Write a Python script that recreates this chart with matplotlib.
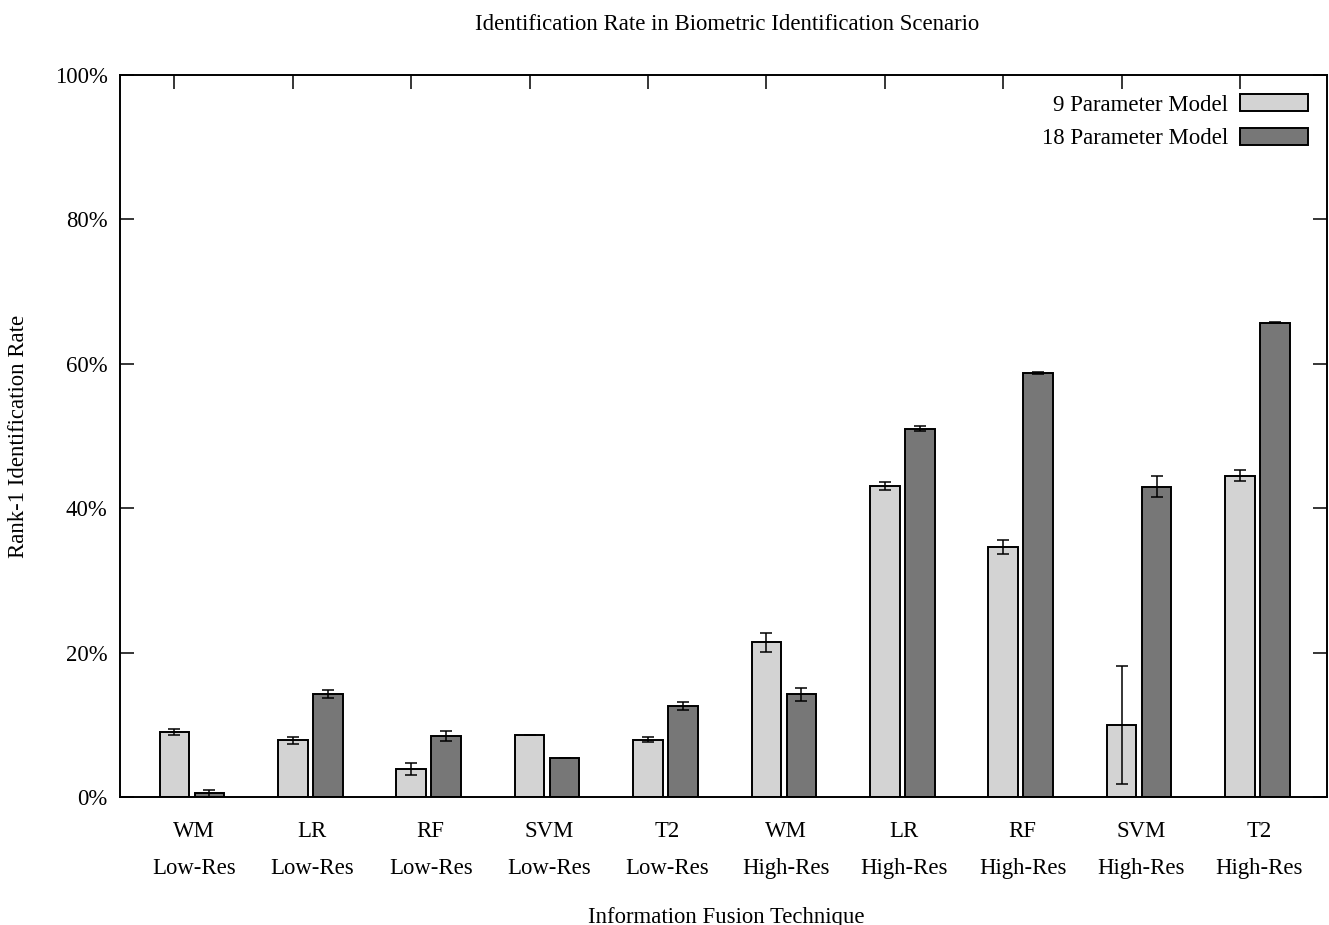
import numpy as np
import matplotlib
matplotlib.use("Agg")
import matplotlib.pyplot as plt

# Rank-1 identification rates (%) and their error margins
methods = ["WM", "LR", "RF", "SVM", "T2", "WM", "LR", "RF", "SVM", "T2"]
resolutions = ["Low-Res"] * 5 + ["High-Res"] * 5
series_names = ["9 Parameter Model", "18 Parameter Model"]
rate_9 = [9.0, 7.85, 3.9, 8.6, 7.95, 21.4, 43.1, 34.6, 10.0, 44.5]
err_9 = [0.4, 0.5, 0.85, 0.0, 0.4, 1.35, 0.55, 0.95, 8.15, 0.75]
rate_18 = [0.5, 14.3, 8.45, 5.4, 12.6, 14.2, 51.0, 58.7, 43.0, 65.7]
err_18 = [0.5, 0.55, 0.7, 0.0, 0.55, 0.85, 0.35, 0.15, 1.4, 0.05]
y_ticks = [0, 20, 40, 60, 80, 100]
y_tick_labels = ["0%", "20%", "40%", "60%", "80%", "100%"]

plt.rcParams["font.family"] = ["Liberation Serif", "DejaVu Serif"]
plt.rcParams["font.size"] = 16.4

fig = plt.figure(figsize=(13.29, 9.25), dpi=100)
ax = fig.add_axes([120 / 1329, 128 / 925, 1207 / 1329, 722 / 925])

x = np.arange(len(methods))
width = 0.25
offset = 0.295
light = "#d3d3d3"
dark = "#777777"
edge_lw = 1.4
err_kw = dict(ecolor="black", elinewidth=1.1, capsize=4.3, capthick=1.1)

ax.bar(x, rate_9, width, yerr=err_9, color=light, edgecolor="black",
       linewidth=edge_lw, label=series_names[0], error_kw=err_kw, zorder=2)
ax.bar(x + offset, rate_18, width, yerr=err_18, color=dark, edgecolor="black",
       linewidth=edge_lw, label=series_names[1], error_kw=err_kw, zorder=2)

ax.set_xlim(-0.46, 9.735)
ax.set_ylim(0, 100)
ax.set_axisbelow(True)

ax.set_yticks(y_ticks, y_tick_labels)
ax.set_xticks(x, [""] * len(x))
ax.set_xticks(x + 0.165, [f"{m}\n{r}" for m, r in zip(methods, resolutions)],
              minor=True, linespacing=1.95)
ax.tick_params(axis="both", which="major", direction="in", length=10,
               width=1.1, top=True, right=True)
ax.tick_params(axis="y", which="major", pad=9)
ax.tick_params(axis="x", which="minor", length=0, pad=17.5)

for s in ax.spines.values():
    s.set_linewidth(1.4)

ax.set_ylabel("Rank-1 Identification Rate")
ax.yaxis.label.set_verticalalignment("center")
ax.yaxis.set_label_coords(-(120 - 19) / 1207, 0.5)
ax.set_xlabel("Information Fusion Technique")
ax.xaxis.label.set_verticalalignment("center")
ax.xaxis.set_label_coords(0.502, -(917 - 797) / 722)
fig.text(0.547, 1 - 24 / 925, "Identification Rate in Biometric Identification Scenario",
         ha="center", va="center")

ax.legend(loc="upper right", frameon=False, markerfirst=False,
          handlelength=2.95, handleheight=0.75, handletextpad=0.55,
          labelspacing=0.55, borderpad=0, borderaxespad=0.85)

fig.savefig("out.png", dpi=100)
